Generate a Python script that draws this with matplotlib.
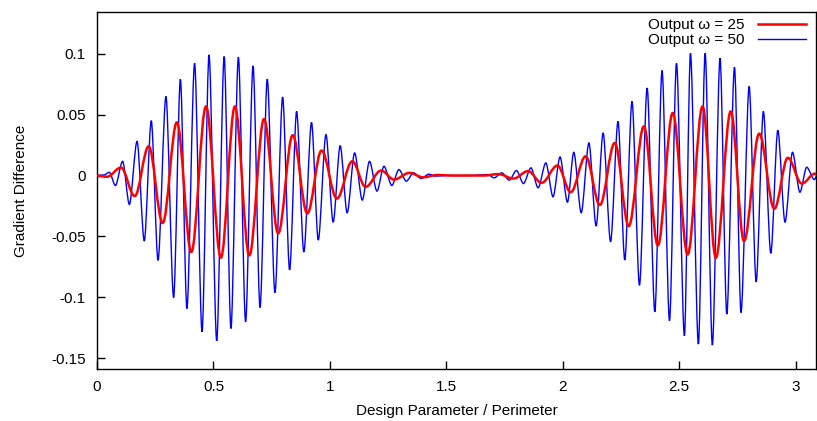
import matplotlib
matplotlib.use("Agg")
from matplotlib import pyplot as plt
from matplotlib.path import Path
from matplotlib.patches import PathPatch
from matplotlib.lines import Line2D

# extrema (x = design parameter, y = gradient difference)
blue_x = [0.0, 0.03, 0.053, 0.079, 0.110, 0.139, 0.172, 0.203, 0.233, 0.262,
          0.296, 0.329, 0.358, 0.386, 0.419, 0.451, 0.481, 0.514, 0.546, 0.575,
          0.607, 0.638, 0.670, 0.700, 0.731, 0.764, 0.797, 0.827, 0.857, 0.888,
          0.921, 0.950, 0.983, 1.014, 1.044, 1.074, 1.106, 1.139, 1.170, 1.202,
          1.232, 1.266, 1.296, 1.328, 1.359, 1.392, 1.424, 1.455, 1.50, 1.60,
          1.677, 1.705, 1.738, 1.770, 1.801, 1.831, 1.863, 1.894, 1.927, 1.958,
          1.988, 2.020, 2.047, 2.079, 2.112, 2.143, 2.173, 2.205, 2.237, 2.266,
          2.297, 2.329, 2.362, 2.395, 2.426, 2.458, 2.488, 2.522, 2.548, 2.582,
          2.611, 2.642, 2.675, 2.704, 2.737, 2.765, 2.800, 2.830, 2.861, 2.893,
          2.923, 2.954, 2.986, 3.018, 3.047, 3.080, 3.090]
blue_y = [0, 0.0005, 0.0027, -0.0082, 0.0117, -0.0238, 0.0281, -0.0538, 0.0451, -0.0697,
          0.0650, -0.1003, 0.0792, -0.1093, 0.0923, -0.1284, 0.0992, -0.1358, 0.0978, -0.1257,
          0.0973, -0.1202, 0.0902, -0.1085, 0.0792, -0.0962, 0.0645, -0.0776, 0.0527, -0.0628,
          0.0437, -0.0530, 0.0336, -0.0383, 0.0246, -0.0306, 0.0186, -0.0202, 0.0117, -0.0128,
          0.0076, -0.0082, 0.0049, -0.0046, 0.0022, -0.0025, 0.0011, -0.0005, 0, 0,
          0.0008, -0.0019, 0.0022, -0.0038, 0.0041, -0.0066, 0.0063, -0.0101, 0.0104, -0.0175,
          0.0153, -0.0219, 0.0191, -0.0306, 0.0268, -0.0415, 0.0350, -0.0544, 0.0445, -0.0694,
          0.0609, -0.0902, 0.0719, -0.1120, 0.0863, -0.1194, 0.0923, -0.1317, 0.1005, -0.1385,
          0.1005, -0.1393, 0.0964, -0.1139, 0.0891, -0.1126, 0.0732, -0.0874, 0.0527, -0.0639,
          0.0372, -0.0383, 0.0191, -0.0137, 0.0068, -0.0033, -0.0005]

red_x = [0.0, 0.043, 0.103, 0.162, 0.222, 0.282, 0.343, 0.405, 0.468, 0.532,
         0.592, 0.654, 0.717, 0.778, 0.840, 0.903, 0.964, 1.030, 1.096, 1.153,
         1.220, 1.275, 1.342, 1.399, 1.464, 1.52, 1.66, 1.724, 1.788, 1.851,
         1.909, 1.977, 2.034, 2.098, 2.159, 2.223, 2.283, 2.348, 2.408, 2.472,
         2.536, 2.600, 2.657, 2.721, 2.778, 2.843, 2.908, 2.966, 3.026, 3.083,
         3.090]
red_y = [0, -0.001, 0.0065, -0.0169, 0.0240, -0.0390, 0.0437, -0.0628, 0.0568, -0.0675,
         0.0568, -0.0656, 0.0464, -0.0475, 0.0331, -0.0311, 0.0205, -0.0189, 0.0117, -0.0093,
         0.0041, -0.0033, 0.0022, -0.0014, 0.0005, 0, 0, 0.0012, -0.0025, 0.0036,
         -0.0060, 0.0082, -0.0137, 0.0158, -0.0242, 0.0268, -0.0415, 0.0404, -0.0574, 0.0514,
         -0.0648, 0.0568, -0.0675, 0.0527, -0.0538, 0.0344, -0.0273, 0.0145, -0.0066, 0.0016,
         0.0005]

x_ticks = [0, 0.5, 1, 1.5, 2, 2.5, 3]
y_ticks = [-0.15, -0.1, -0.05, 0, 0.05, 0.1]
y_ticklabels = ["-0.15", "-0.1", "-0.05", "0", "0.05", "0.1"]


def smooth_path(xs, ys, k=0.36):
    # stroke through the read points, flat tangent at each turning point
    verts = [(xs[0], ys[0])]
    codes = [Path.MOVETO]
    for i in range(1, len(xs)):
        dx = xs[i] - xs[i - 1]
        verts += [(xs[i - 1] + k * dx, ys[i - 1]), (xs[i] - k * dx, ys[i]), (xs[i], ys[i])]
        codes += [Path.CURVE4] * 3
    return Path(verts, codes)


plt.rcParams["font.family"] = ["Liberation Sans", "DejaVu Sans"]
plt.rcParams["font.size"] = 11

fig = plt.figure(figsize=(8.17, 4.21), dpi=100)
ax = fig.add_axes([97 / 817, 52 / 421, 719 / 817, 357 / 421])

ax.add_patch(PathPatch(smooth_path(blue_x, blue_y, 0.3), fill=False,
                       edgecolor="#0000ff", lw=1.0, zorder=2))
ax.add_patch(PathPatch(smooth_path(red_x, red_y), fill=False,
                       edgecolor="#ff0000", lw=1.8, zorder=3))

ax.set_xlim(0, 3.087)
ax.set_ylim(-0.159, 0.1344)
ax.set_xticks(x_ticks)
ax.set_xticklabels([str(t) for t in x_ticks])
ax.set_yticks(y_ticks)
ax.set_yticklabels(y_ticklabels)
ax.tick_params(direction="in", length=6, width=1, top=False, right=False)
ax.tick_params(axis="x", pad=8)
ax.tick_params(axis="y", pad=8)
for s in ax.spines.values():
    s.set_linewidth(1.0)

ax.set_xlabel("Design Parameter / Perimeter", labelpad=7)
ax.set_ylabel("Gradient Difference", labelpad=17)

h_red = Line2D([], [], color="#ff0000", lw=1.8)
h_blue = Line2D([], [], color="#0000ff", lw=1.0)
ax.legend([h_red, h_blue], ["Output \u03c9 = 25", "Output \u03c9 = 50"],
          loc="upper right", frameon=False, markerfirst=False,
          handlelength=3.1, borderaxespad=0.0, labelspacing=0.05,
          handletextpad=0.9, bbox_to_anchor=(0.994, 1.0))

fig.savefig("out.png", dpi=100)
